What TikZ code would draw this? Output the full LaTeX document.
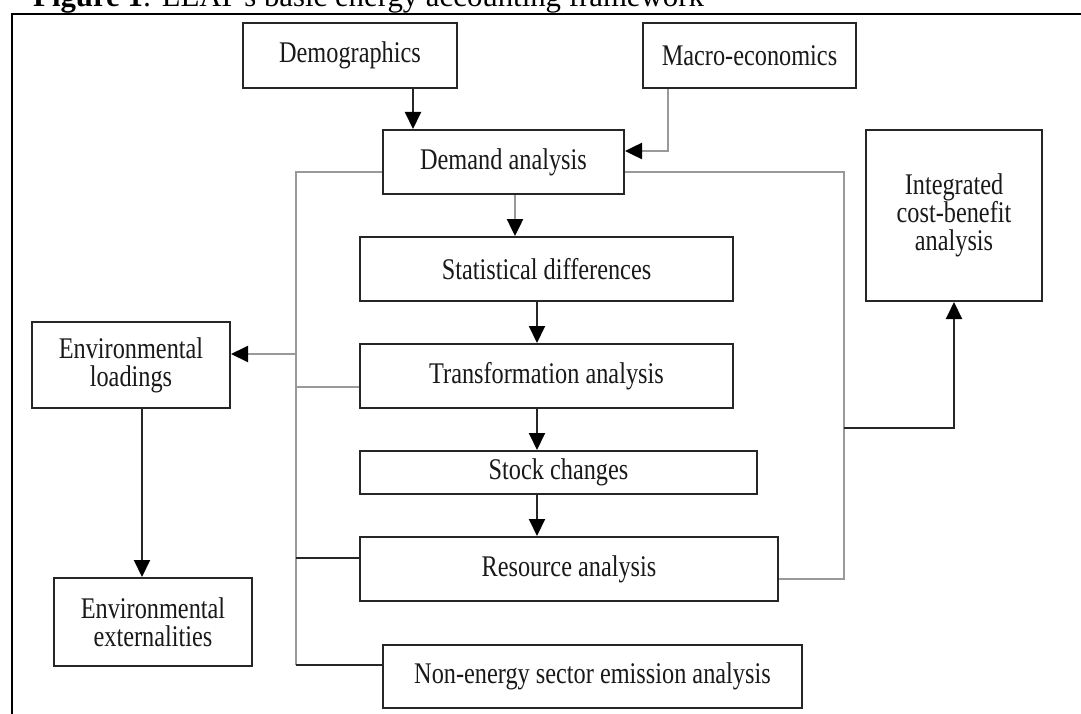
\documentclass[tikz,border=0pt]{standalone}
\usepackage{fontspec}
\setmainfont{Liberation Serif}[FakeStretch=0.81]
\newfontfamily\titlefont{Liberation Serif}
\usetikzlibrary{arrows.meta}
\tikzset{
  boxnode/.style={draw=black!85, line width=2pt, fill=white, inner sep=0pt, align=center,
    font=\fontsize{30pt}{28pt}\selectfont, text=black!90},
  blk/.style={draw=black!85, line width=2pt},
  gry/.style={draw=black!40, line width=2.5pt},
  tip/.style={-{Triangle[length=17pt,width=16pt]}, arrows={-{Triangle[length=17pt,width=16pt,fill=black,color=black]}}},
}
\begin{document}
\begin{tikzpicture}[x=1pt,y=-1pt]
\useasboundingbox (0,0) rectangle (1081,714);
\fill[white] (0,0) rectangle (1081,714);
% title and frame
\node[anchor=base west, inner sep=0pt, font=\titlefont\fontsize{30.8pt}{32pt}\selectfont] (title) at (33,7)
  {\textbf{Figure 1}: LEAP's basic energy accounting framework};
\draw[line width=2.7pt, black] (12,714) -- (12,14) -- (1081,14);

% nodes
\node[boxnode, minimum width=214pt, minimum height=65pt] (demo) at (350,55.5) {Demographics};
\node[boxnode, minimum width=213pt, minimum height=65pt] (macro) at (749.5,55.5) {Macro-economics};
\node[boxnode, minimum width=241pt, minimum height=64pt] (demand) at (503.5,162) {Demand analysis};
\node[boxnode, minimum width=373pt, minimum height=64pt] (stat) at (546.5,269) {Statistical differences};
\node[boxnode, minimum width=373pt, minimum height=64pt] (trans) at (546.5,376) {Transformation analysis};
\node[boxnode, minimum width=397pt, minimum height=43pt] (stock) at (558.5,472.5) {Stock changes};
\node[boxnode, minimum width=418pt, minimum height=64pt] (res) at (569,569) {Resource analysis};
\node[boxnode, minimum width=419pt, minimum height=63pt] (nonen) at (592.5,676.5) {Non-energy sector emission analysis};
\node[boxnode, minimum width=198pt, minimum height=86pt] (envl) at (131,365) {Environmental\\loadings};
\node[boxnode, minimum width=198pt, minimum height=88pt] (envx) at (153,622) {Environmental\\externalities};
\node[boxnode, minimum width=176pt, minimum height=171pt] (icba) at (954,215.5) {Integrated\\cost-benefit\\analysis};

% helper coordinates
\coordinate (dA) at (413,0);
\coordinate (mA) at (668,151);
\coordinate (sA) at (515,0);
\coordinate (cA) at (537,0);
\coordinate (eA) at (142,0);
\coordinate (LB) at (296,172);
\coordinate (Le) at (296,354);
\coordinate (Lt) at (296,387);
\coordinate (Lr) at (296,558);
\coordinate (LBend) at (296,665);
\coordinate (RB) at (844,172);
\coordinate (Ri) at (844,428);
\coordinate (RBend) at (844,579);

% connectors
\draw[blk, tip] (demo.south -| dA) -- (demand.north -| dA);
\draw[gry, tip] (macro.south -| mA) -- (mA) -- (demand.east |- mA);
\draw[gry, tip] (demand.south -| sA) -- (stat.north -| sA);
\draw[blk, tip] (stat.south -| cA) -- (trans.north -| cA);
\draw[blk, tip] (trans.south -| cA) -- (stock.north -| cA);
\draw[blk, tip] (stock.south -| cA) -- (res.north -| cA);
\draw[blk, tip] (envl.south -| eA) -- (envx.north -| eA);

% left bus
\draw[gry, line width=2pt] (demand.west |- LB) -- (LB) -- (LBend);
\draw[gry, line width=2pt, tip] (Le) -- (envl.east |- Le);
\draw[gry, line width=2pt] (Lt) -- (trans.west |- Lt);
\draw[blk] (Lr) -- (res.west |- Lr);
\draw[blk] (LBend) -- (nonen.west |- LBend);

% right bus
\draw[gry] (demand.east |- RB) -- (RB) -- (RBend) -- (res.east |- RBend);
\draw[blk, tip] (Ri) -| (icba.south);
\end{tikzpicture}
\end{document}
